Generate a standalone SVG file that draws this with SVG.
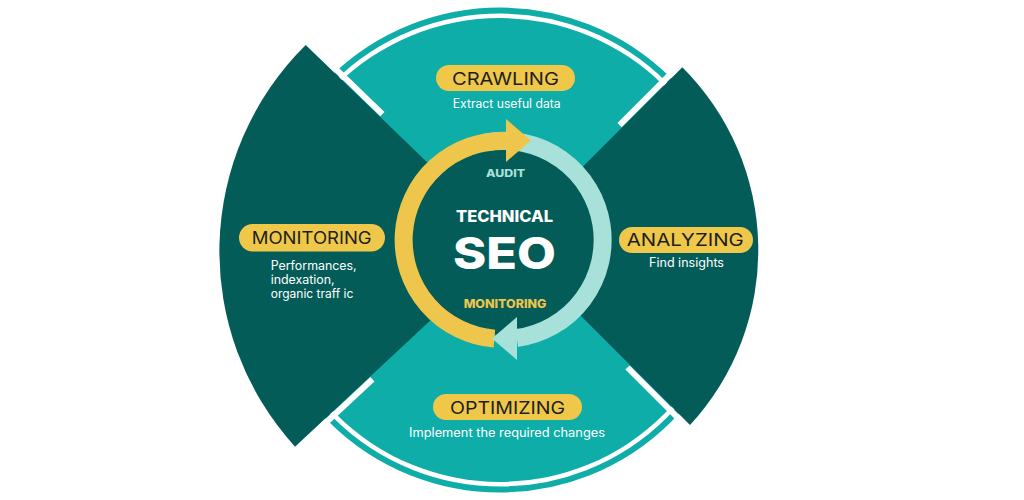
<svg xmlns="http://www.w3.org/2000/svg" width="1024" height="500" viewBox="0 0 1024 500">
  <style>
    .teal{fill:#0EADA8}
    .dark{fill:#035C58}
    .pill{fill:#EFC84A}
    .gap{stroke:#FFFFFF;stroke-width:6;stroke-linecap:butt;fill:none}
    .lbl{font-family:Inter,"Liberation Sans",sans-serif;font-size:17px;fill:#1E1E1E;text-anchor:middle}
    .sub{font-family:Inter,"Liberation Sans",sans-serif;font-size:12.5px;fill:#FFFFFF;text-anchor:middle}
    .subl{font-family:Inter,"Liberation Sans",sans-serif;font-size:12.5px;fill:#FFFFFF}
    .ctr{font-family:Inter,"Liberation Sans",sans-serif;font-weight:800;text-anchor:middle}
  </style>
  <rect width="1024" height="500" fill="#FFFFFF"/>

  <!-- teal disk with outer band -->
  <g id="disk">
    <circle cx="500" cy="250" r="239.5" fill="none" stroke="#0EADA8" stroke-width="6"/>
    <circle class="teal" cx="500" cy="250" r="232"/>
  </g>

  <!-- dark side sectors -->
  <g id="sector-left">
    <path class="dark" d="M460 194 L305.7 45 A290 290 0 0 0 295 446.7 L460 292.7 Z"/>
  </g>
  <g id="sector-right">
    <path class="dark" d="M550 199.6 L682.3 67.3 A258 258 0 0 1 690 425 L550 285 Z"/>
  </g>

  <!-- white separating gaps -->
  <g id="gaps">
    <line class="gap" x1="382.4" y1="114.2" x2="322.4" y2="56.2"/>
    <line class="gap" x1="372.4" y1="379.3" x2="317.4" y2="430.6"/>
    <line class="gap" x1="619.5" y1="125.1" x2="677.5" y2="67.1"/>
    <line class="gap" x1="627.5" y1="367.5" x2="685.5" y2="425.5"/>
  </g>

  <!-- central cycle -->
  <g id="connectors">
    <circle class="dark" cx="503" cy="240" r="95"/>
    <path d="M485.8 142.5 A99 99 0 1 1 516.8 338" fill="none" stroke="#A8E0DA" stroke-width="18"/>
    <path d="M506 141 A99 99 0 0 0 494.4 338.6" fill="none" stroke="#EEC64B" stroke-width="18"/>
    <polygon points="506,119 506,162 531,140.5" fill="#EEC64B"/>
    <polygon points="517,317 517,360 492,338.5" fill="#A8E0DA"/>
  </g>

  <g id="center">
    <text class="ctr" x="505.5" y="176.7" font-size="10.5" fill="#A8E0DA" textLength="39" lengthAdjust="spacingAndGlyphs">AUDIT</text>
    <text class="ctr" x="504.5" y="222" font-size="15.5" fill="#FFFFFF" textLength="97" lengthAdjust="spacingAndGlyphs">TECHNICAL</text>
    <text class="ctr" x="504.5" y="268.5" font-size="44" fill="#FFFFFF" textLength="103" lengthAdjust="spacingAndGlyphs">SEO</text>
    <text class="ctr" x="505" y="308.3" font-size="11.5" fill="#EEC64B" textLength="82.7" lengthAdjust="spacingAndGlyphs">MONITORING</text>
  </g>

  <g id="crawling">
    <rect class="pill" x="436" y="65" width="139" height="26" rx="13"/>
    <text class="lbl" x="505.5" y="85" textLength="107" lengthAdjust="spacingAndGlyphs">CRAWLING</text>
    <text class="sub" x="506.7" y="108.3" textLength="108" lengthAdjust="spacingAndGlyphs">Extract useful data</text>
  </g>

  <g id="monitoring">
    <rect class="pill" x="239" y="224" width="146" height="27.5" rx="13.7"/>
    <text class="lbl" x="311.7" y="244.3" textLength="120" lengthAdjust="spacingAndGlyphs">MONITORING</text>
    <text class="subl" x="270.7" y="270" textLength="86" lengthAdjust="spacingAndGlyphs">Performances,</text>
    <text class="subl" x="270.7" y="284.3" textLength="64" lengthAdjust="spacingAndGlyphs">indexation,</text>
    <text class="subl" x="270.7" y="298.3" textLength="82.6" lengthAdjust="spacingAndGlyphs">organic traff ic</text>
  </g>

  <g id="analyzing">
    <rect class="pill" x="619" y="227" width="134" height="26" rx="13"/>
    <text class="lbl" x="685.3" y="245.7" textLength="117" lengthAdjust="spacingAndGlyphs">ANALYZING</text>
    <text class="sub" x="686.5" y="266.7" textLength="75" lengthAdjust="spacingAndGlyphs">Find insights</text>
  </g>

  <g id="optimizing">
    <rect class="pill" x="433" y="394" width="149" height="26" rx="13"/>
    <text class="lbl" x="507.5" y="414" textLength="115" lengthAdjust="spacingAndGlyphs">OPTIMIZING</text>
    <text class="sub" x="507" y="437.3" textLength="196" lengthAdjust="spacingAndGlyphs">Implement the required changes</text>
  </g>
</svg>
